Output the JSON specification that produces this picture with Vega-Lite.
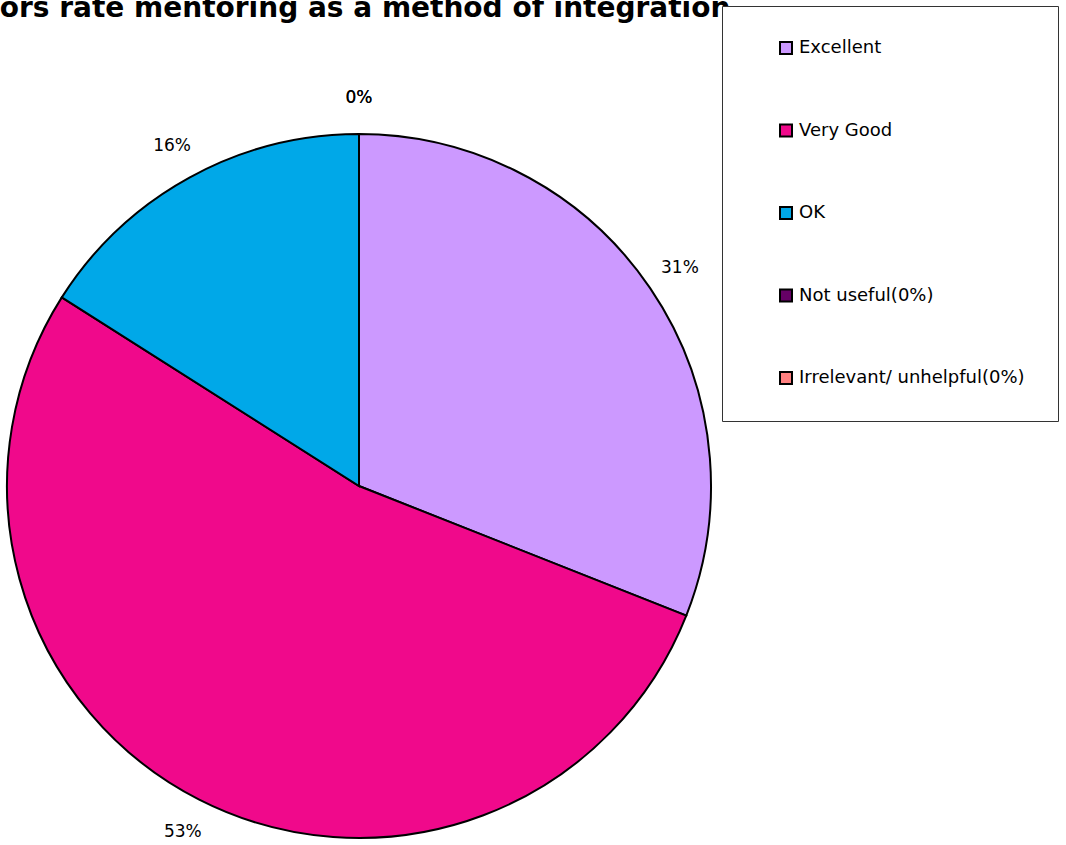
{
  "$schema": "https://vega.github.io/schema/vega-lite/v6.json",
  "width": 718,
  "height": 718,
  "autosize": {"type": "none"},
  "padding": {"left": 0, "top": 127, "right": 348, "bottom": 0},
  "background": "white",
  "title": {
    "text": "How do mentors rate mentoring as a method of integration",
    "font": "DejaVu Sans",
    "fontSize": 28,
    "fontWeight": "bold",
    "color": "#000000",
    "anchor": "start",
    "frame": "group",
    "baseline": "alphabetic",
    "offset": 0,
    "dx": -209,
    "dy": 39,
    "zindex": 0
  },
  "data": {
    "values": [
      {"category": "Excellent", "pct": 31, "label": "31%", "idx": 1},
      {"category": "Very Good", "pct": 53, "label": "53%", "idx": 2},
      {"category": "OK", "pct": 16, "label": "16%", "idx": 3},
      {"category": "Not useful(0%)", "pct": 0, "label": "0%", "idx": 4},
      {"category": "Irrelevant/ unhelpful(0%)", "pct": 0, "label": "0%", "idx": 5}
    ]
  },
  "encoding": {
    "theta": {"field": "pct", "type": "quantitative", "stack": true},
    "order": {"field": "idx", "type": "quantitative"}
  },
  "layer": [
    {
      "mark": {"type": "arc", "outerRadius": 352, "stroke": "#000000", "strokeWidth": 2},
      "encoding": {
        "color": {
          "field": "category",
          "type": "nominal",
          "sort": ["Excellent", "Very Good", "OK", "Not useful(0%)", "Irrelevant/ unhelpful(0%)"],
          "scale": {
            "domain": ["Excellent", "Very Good", "OK", "Not useful(0%)", "Irrelevant/ unhelpful(0%)"],
            "range": ["#CC99FF", "#F0098B", "#00A8E8", "#660066", "#FF8080"]
          },
          "legend": {
            "orient": "none",
            "legendX": 722,
            "legendY": -121,
            "zindex": 2,
            "title": null,
            "symbolType": "square",
            "symbolSize": 144,
            "symbolStrokeColor": "#000000",
            "symbolStrokeWidth": 2,
            "symbolOpacity": 1,
            "symbolOffset": 22,
            "labelFont": "DejaVu Sans",
            "labelFontSize": 18,
            "labelColor": "#000000",
            "labelOffset": 4,
            "labelLimit": 400,
            "rowPadding": 62.5,
            "padding": 33,
            "strokeColor": "#333333",
            "fillColor": "#FFFFFF"
          }
        }
      }
    },
    {
      "mark": {"type": "text", "radius": 388, "font": "DejaVu Sans", "fontSize": 17, "fill": "#000000"},
      "encoding": {"text": {"field": "label", "type": "nominal"}}
    }
  ],
  "config": {"view": {"stroke": null}}
}
